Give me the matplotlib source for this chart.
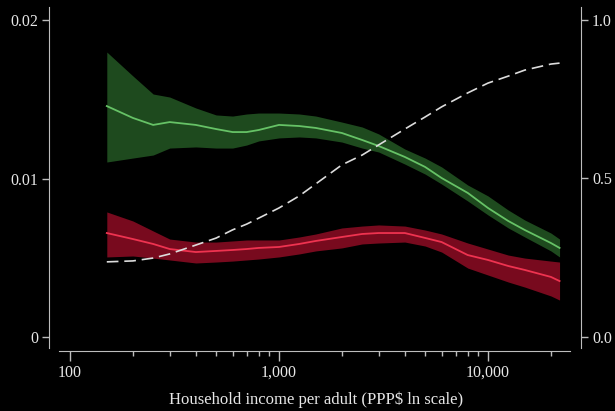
import matplotlib
matplotlib.use('Agg')
import matplotlib.pyplot as plt

plt.rcParams['font.family'] = ['Liberation Serif', 'DejaVu Serif']

# income per adult (PPP$)
income = [150, 200, 250, 300, 400, 500, 600, 700, 800, 1000, 1250, 1500,
          2000, 2500, 3000, 4000, 5000, 6000, 8000, 10000, 12500, 15000, 20000, 22000]

green_mid = [0.01457, 0.01382, 0.01338, 0.01356, 0.01338, 0.01312, 0.01293, 0.01293,
             0.01306, 0.01338, 0.01331, 0.01319, 0.01287, 0.01243, 0.01205, 0.01136,
             0.01073, 0.01003, 0.00909, 0.00814, 0.00732, 0.00675, 0.00593, 0.00562]
green_hi = [0.01798, 0.01647, 0.01533, 0.01514, 0.01445, 0.01401, 0.01394, 0.01407,
            0.01413, 0.01413, 0.01407, 0.01394, 0.01356, 0.01325, 0.01281, 0.01186,
            0.01129, 0.01073, 0.00959, 0.00890, 0.00801, 0.00738, 0.00656, 0.00618]
green_lo = [0.01104, 0.01129, 0.01148, 0.01192, 0.01199, 0.01192, 0.01192, 0.01211,
            0.01237, 0.01256, 0.01262, 0.01256, 0.01230, 0.01192, 0.01167, 0.01091,
            0.01028, 0.00965, 0.00858, 0.00770, 0.00688, 0.00631, 0.00543, 0.00505]

red_mid = [0.00656, 0.00618, 0.00587, 0.00555, 0.00536, 0.00543, 0.00549, 0.00555,
           0.00562, 0.00568, 0.00587, 0.00606, 0.00631, 0.00650, 0.00656, 0.00656,
           0.00625, 0.00599, 0.00517, 0.00486, 0.00448, 0.00423, 0.00379, 0.00353]
red_hi = [0.00789, 0.00732, 0.00669, 0.00618, 0.00599, 0.00599, 0.00606, 0.00612,
          0.00612, 0.00612, 0.00631, 0.00650, 0.00688, 0.00700, 0.00707, 0.00700,
          0.00675, 0.00650, 0.00593, 0.00555, 0.00517, 0.00498, 0.00479, 0.00473]
red_lo = [0.00505, 0.00511, 0.00498, 0.00486, 0.00467, 0.00473, 0.00479, 0.00486,
          0.00492, 0.00505, 0.00524, 0.00543, 0.00562, 0.00587, 0.00593, 0.00599,
          0.00574, 0.00536, 0.00435, 0.00391, 0.00347, 0.00315, 0.00259, 0.00233]

# right axis share (dashed)
share = [0.237, 0.240, 0.249, 0.262, 0.290, 0.312, 0.338, 0.356, 0.375, 0.407, 0.445,
         0.483, 0.543, 0.574, 0.606, 0.656, 0.694, 0.726, 0.770, 0.801, 0.823, 0.842,
         0.861, 0.864]

x_ticks = [100, 1000, 10000]
x_ticklabels = ['100', '1,000', '10,000']
x_minor = [200, 300, 400, 500, 600, 700, 800, 900,
           2000, 3000, 4000, 5000, 6000, 7000, 8000, 9000, 20000]
yl_ticks = [0, 0.01, 0.02]
yl_labels = ['0', '0.01', '0.02']
yr_ticks = [0, 0.5, 1.0]
yr_labels = ['0.0', '0.5', '1.0']
xlabel = 'Household income per adult (PPP$ ln scale)'

spine_c = '#bdbdbd'
text_c = '#e6e6e6'

fig = plt.figure(figsize=(6.15, 4.11), dpi=100, facecolor='black')
ax = fig.add_axes([49/615, 1-351/411, 532/615, 344/411])
ax.set_facecolor('black')
ax.set_xscale('log')
ax.set_xlim(79.35, 27861)
ax.set_ylim(-0.000883, 0.02082)

ax.fill_between(income, green_lo, green_hi, color='#1e4a1e', lw=0, zorder=1)
ax.fill_between(income, red_lo, red_hi, color='#780a1e', lw=0, zorder=1)
ax.plot(income, green_mid, color='#66c266', lw=1.3, zorder=2)
ax.plot(income, red_mid, color='#ee3350', lw=1.3, zorder=2)

for s in ['top', 'right']:
    ax.spines[s].set_visible(False)
ax.spines['left'].set_color(spine_c)
ax.spines['bottom'].set_color(spine_c)
ax.spines['left'].set_bounds(-0.000694, 0.02082)
ax.spines['bottom'].set_bounds(88.6, 24680)

ax.set_xticks(x_ticks)
ax.set_xticklabels(x_ticklabels)
ax.set_xticks(x_minor, minor=True)
ax.xaxis.set_minor_formatter(plt.NullFormatter())
ax.set_yticks(yl_ticks)
ax.set_yticklabels(yl_labels)
ax.tick_params(axis='x', which='major', direction='out', length=7, width=1,
               color=spine_c, labelcolor=text_c, labelsize=11.5, pad=3)
ax.tick_params(axis='x', which='minor', direction='out', length=3.5, width=1,
               color=spine_c)
ax.tick_params(axis='y', direction='out', length=5, width=1, color=spine_c,
               labelcolor=text_c, labelsize=11.5, pad=3)

ax2 = ax.twinx()
ax2.set_ylim(-0.0442, 1.041)
ax2.patch.set_visible(False)
for s in ['top', 'left', 'bottom']:
    ax2.spines[s].set_visible(False)
ax2.spines['right'].set_color(spine_c)
ax2.spines['right'].set_bounds(-0.0347, 1.041)
line, = ax2.plot(income, share, color='#dcdcdc', lw=1.2, zorder=3)
line.set_dashes([7, 3.5])
ax2.set_yticks(yr_ticks)
ax2.set_yticklabels(yr_labels)
ax2.tick_params(axis='y', direction='out', length=5, width=1, color=spine_c,
                labelcolor=text_c, labelsize=11.5, pad=3)

fig.text(316.5/615, 1-400/411, xlabel, color=text_c, fontsize=12,
         ha='center', va='center')

fig.savefig('out.png', dpi=100, facecolor='black')
